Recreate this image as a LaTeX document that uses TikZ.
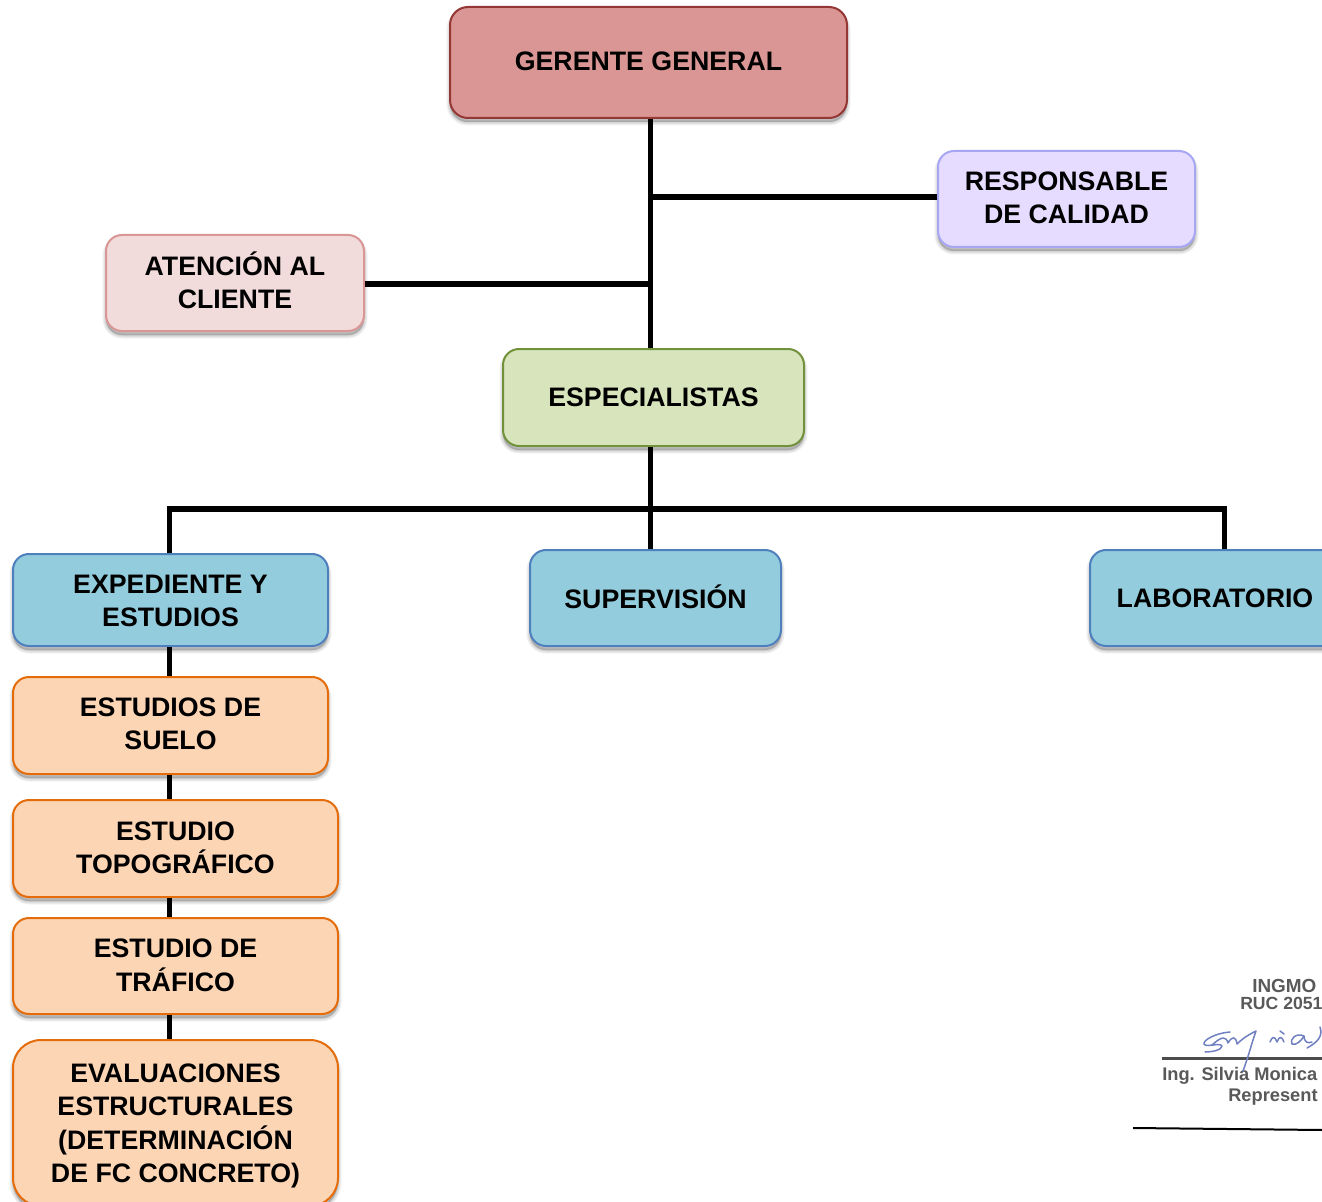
\documentclass[tikz,border=0pt]{standalone}
\usepackage{fontspec}
\setmainfont{Liberation Sans}
\usetikzlibrary{calc}
\definecolor{redF}{HTML}{D99694}\definecolor{redD}{HTML}{953735}
\definecolor{pinkF}{HTML}{F2DCDB}\definecolor{pinkD}{HTML}{D99694}
\definecolor{lilF}{HTML}{E6DCFF}\definecolor{lilD}{HTML}{A6A6F2}
\definecolor{grnF}{HTML}{D7E4BC}\definecolor{grnD}{HTML}{71913A}
\definecolor{bluF}{HTML}{93CDDD}\definecolor{bluD}{HTML}{4F7FBD}
\definecolor{orgF}{HTML}{FCD5B5}\definecolor{orgD}{HTML}{E46C0A}
\definecolor{penC}{HTML}{7080C0}
\tikzset{
  shadowlayer/.style={preaction={draw=black,fill=black,opacity=.05,line width=#1*0.75pt,transform canvas={yshift=-3pt}}},
  box/.style={rounded corners=16*0.75pt,line width=2*0.75pt,align=center,inner sep=0pt,
    font=\fontsize{20.05pt}{24.75pt}\selectfont\bfseries,text=black,
    shadowlayer=7,shadowlayer=5,shadowlayer=3,shadowlayer=1},
  redbox/.style={box,draw=redD,fill=redF},
  pinkbox/.style={box,draw=pinkD,fill=pinkF},
  lilbox/.style={box,draw=lilD,fill=lilF},
  grnbox/.style={box,draw=grnD,fill=grnF},
  blubox/.style={box,draw=bluD,fill=bluF},
  orgbox/.style={box,draw=orgD,fill=orgF},
  link/.style={line width=5.5*0.75pt,draw=black},
  sigA/.style={font=\fontsize{13.2pt}{14pt}\selectfont\bfseries,text=black!65,inner sep=0pt,anchor=west},
  sigB/.style={font=\fontsize{13.7pt}{14pt}\selectfont\bfseries,text=black!65,inner sep=0pt,anchor=west},
  sigC/.style={font=\fontsize{14.2pt}{14pt}\selectfont\bfseries,text=black!65,inner sep=0pt,anchor=west},
  pen/.style={draw=penC,line width=1.5*0.75pt,line cap=round,line join=round},
}
% style, name, x0, y0, x1, y1, text shift up (px), text
\newcommand{\bx}[8]{\node[#1,minimum width=#5*0.75pt-#3*0.75pt,minimum height=#6*0.75pt-#4*0.75pt] (#2) at ({(#3+#5)/2},{(#4+#6)/2}) {\raisebox{0pt}[\dimexpr\height-0.75\dimexpr#7pt\relax\relax][\dimexpr\depth+0.75\dimexpr#7pt\relax\relax]{\begin{tabular}{@{}c@{}}#8\end{tabular}}};}
\begin{document}
\begin{tikzpicture}[x=0.75pt,y=-0.75pt]
\useasboundingbox (0,0) rectangle (1322,1202);
\clip (0,0) rectangle (1322,1202);
\fill[white] (0,0) rectangle (1322,1202);
\coordinate (tr) at (650.5,0);
\coordinate (lft) at (169.5,0);
\coordinate (rgt) at (1224.5,0);
\coordinate (busY) at (0,509);
\coordinate (rY) at (0,197);
\coordinate (aY) at (0,284);
\bx{redbox,rounded corners=18*0.75pt}{gg}{450}{7}{847}{118}{-1.5}{GERENTE GENERAL}
\bx{lilbox}{rc}{938}{151}{1195}{247}{-1}{RESPONSABLE\\DE CALIDAD}
\bx{pinkbox}{ac}{106}{235}{364}{331}{-2}{ATENCIÓN AL\\CLIENTE}
\bx{grnbox}{es}{503}{349}{804}{446}{-2}{ESPECIALISTAS}
\bx{blubox}{ex}{13}{554}{328}{646}{-3}{EXPEDIENTE Y\\ESTUDIOS}
\bx{blubox}{su}{530}{550}{781}{646}{-4}{SUPERVISIÓN}
\bx{blubox}{la}{1090}{550}{1340}{646}{-3}{LABORATORIO}
\bx{orgbox}{e1}{13}{677}{328}{774}{-1}{ESTUDIOS DE\\SUELO}
\bx{orgbox}{e2}{13}{800}{338}{897}{-2}{ESTUDIO\\TOPOGRÁFICO}
\bx{orgbox}{e3}{13}{918}{338}{1014}{-2}{ESTUDIO DE\\TRÁFICO}
\bx{orgbox,rounded corners=28*0.75pt}{e4}{13}{1040}{338}{1206}{-3}{EVALUACIONES\\ESTRUCTURALES\\(DETERMINACIÓN\\DE FC CONCRETO)}
\draw[link] (gg.south -| tr) -- (es.north -| tr);
\draw[link] (tr |- rY) -- (rc.west |- rY);
\draw[link] (tr |- aY) -- (ac.east |- aY);
\draw[link] (es.south -| tr) -- (su.north -| tr);
\draw[link,line cap=rect] (lft |- busY) -- (rgt |- busY);
\draw[link] (lft |- busY) -- (ex.north -| lft);
\draw[link] (rgt |- busY) -- (la.north -| rgt);
\draw[link] (ex.south -| lft) -- (e1.north -| lft);
\draw[link] (e1.south -| lft) -- (e2.north -| lft);
\draw[link] (e2.south -| lft) -- (e3.north -| lft);
\draw[link] (e3.south -| lft) -- (e4.north -| lft);
% signature block
\node[sigC] (s1) at (1252,986) {INGMO};
\node[sigA] (s2) at (1240,1003) {RUC 2051};
\node[sigB] (s3) at (1162,1076) {Ing. Silvia Monica};
\node[sigB] (s4) at (1228,1097) {Represent};
\coordinate (l1a) at (1162,1058); \coordinate (l1b) at (1322,1058);
\coordinate (l2a) at (1133,1128); \coordinate (l2b) at (1322,1130);
\draw[line width=3*0.75pt,black!70] (l1a) -- (l1b);
\draw[line width=2*0.75pt,black] (l2a) -- (l2b);
\draw[pen] (1230,1032) .. controls (1216,1033) and (1203,1040) .. (1204,1044) .. controls (1206,1048) and (1220,1042) .. (1222,1046) .. controls (1222,1050) and (1212,1052) .. (1205,1052);
\draw[pen] (1212,1045) .. controls (1222,1036) and (1226,1036) .. (1228,1043) .. controls (1232,1036) and (1236,1036) .. (1237,1044) .. controls (1241,1040) and (1246,1036) .. (1256,1031) .. controls (1252,1042) and (1248,1058) .. (1243,1071);
\draw[pen] (1270,1042) .. controls (1272,1036) and (1275,1036) .. (1277,1042) .. controls (1279,1036) and (1282,1036) .. (1284,1042) (1280,1031) -- (1284,1034);
\draw[pen] (1304,1036) .. controls (1296,1032) and (1289,1040) .. (1292,1044) .. controls (1296,1046) and (1302,1040) .. (1304,1036) .. controls (1304,1042) and (1308,1044) .. (1312,1042);
\draw[pen] (1320,1027) .. controls (1323,1036) and (1318,1042) .. (1307,1048);
\end{tikzpicture}
\end{document}
